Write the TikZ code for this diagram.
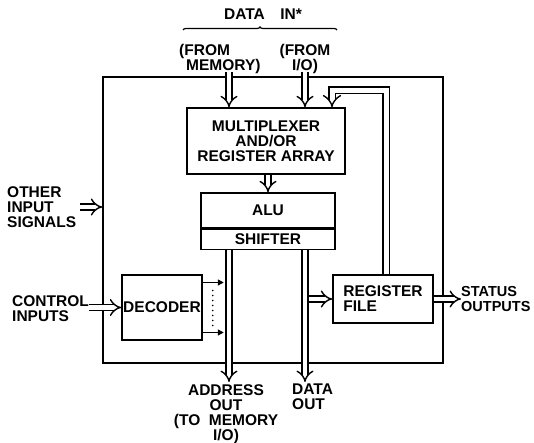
\documentclass[tikz,border=0pt]{standalone}
\usepackage{fontspec}
\setmainfont{Liberation Sans}
\usepackage{tikz}
\usetikzlibrary{arrows.meta,positioning,decorations.pathreplacing}

\newcommand\dgfont{\fontsize{15.5bp}{15bp}\selectfont\bfseries}
\tikzset{
  blk/.style={draw, line width=1.5bp, inner sep=1bp, align=center},
  lbl/.style={inner sep=0pt},
  bus/.style={double, double distance=4.5bp, line width=1.4bp, -{Implies[scale=1.2]}},
  sig/.style={line width=1.4bp, -{Triangle[length=6bp,width=6bp]}}
}

\begin{document}
\begin{tikzpicture}[x=1bp,y=-1bp,font=\dgfont]
\useasboundingbox (0,0) rectangle (534,443);

% outer chip and blocks
\node[blk, minimum width=340bp, minimum height=286bp] (chip) at (273,220) {};
\node[blk, minimum width=158bp, minimum height=66bp] (mux) at (266,141) {MULTIPLEXER\\AND/OR\\REGISTER ARRAY};
\node[blk, minimum width=134bp, minimum height=35bp] (alu) at (268,210.5) {ALU};
\node[blk, minimum width=134bp, minimum height=20bp, below=0pt of alu] (shft) {SHIFTER};
\node[blk, minimum width=80bp, minimum height=65bp] (dec) at (162,307.5) {DECODER};
\node[blk, minimum width=100bp, minimum height=48bp, align=left] (reg) at (383,299) {REGISTER\\FILE};

% labels
\node[lbl] (datain) at (263,14) {DATA\quad IN*};
\draw[line width=1.2bp, decorate, decoration={brace, amplitude=3bp}] (183,30) -- (337,30);
\node[lbl, align=left, anchor=north west] (frommem) at (179,44) {(FROM\\\hspace{7bp}MEMORY)};
\node[lbl, align=center, anchor=north] (fromio) at (305,44) {(FROM\\I/O)};
\node[lbl, align=left, anchor=west] (other) at (7,207) {OTHER\\INPUT\\SIGNALS};
\node[lbl, align=left, anchor=west] (ctrl) at (12,309) {CONTROL\\INPUTS};
\node[lbl, align=left, anchor=west, font=\fontsize{14.5bp}{15bp}\selectfont\bfseries] (status) at (461,299) {STATUS\\OUTPUTS};
\node[lbl, align=center, anchor=north] (addrlbl) at (226,384) {ADDRESS\\OUT\\(TO\ \ MEMORY\\I/O)};
\node[lbl, align=left, anchor=north west] (datalbl) at (292,384) {DATA\\OUT};

% bus ends
\coordinate (memin) at (229,72);
\coordinate (ioin) at (305,72);
\coordinate (addrout) at (229,382);
\coordinate (dataout) at (305,382);

% buses
\draw[bus] (memin) -- (memin |- mux.north);
\draw[bus] (ioin) -- (ioin |- mux.north);
\draw[bus] (alu.north |- mux.south) -- (alu.north);
\draw[bus] (shft.south -| addrout) -- (addrout);
\draw[bus] (dataout |- reg.west) -- (reg.west);
\draw[bus] (shft.south -| dataout) -- (dataout);
\draw[bus] (reg.east) -- (status.west);
\draw[bus, double distance=5bp] ([xshift=3bp]reg.north) -- ++(0,-184) -| ([xshift=66bp]mux.north);
\draw[bus] ([xshift=4bp]other.east) -- (chip.west |- other.east);
\draw[bus] (ctrl.east |- dec.west) -- (dec.west);

% decoder outputs
\draw[sig] ([yshift=25bp]dec.east) -- ++(21,0);
\draw[sig] ([yshift=-25bp]dec.east) -- ++(21,0);
\draw[line width=1.8bp, line cap=round, dash pattern=on 0pt off 5bp] ([xshift=10bp,yshift=17bp]dec.east) -- ([xshift=10bp,yshift=-18bp]dec.east);
\end{tikzpicture}
\end{document}
